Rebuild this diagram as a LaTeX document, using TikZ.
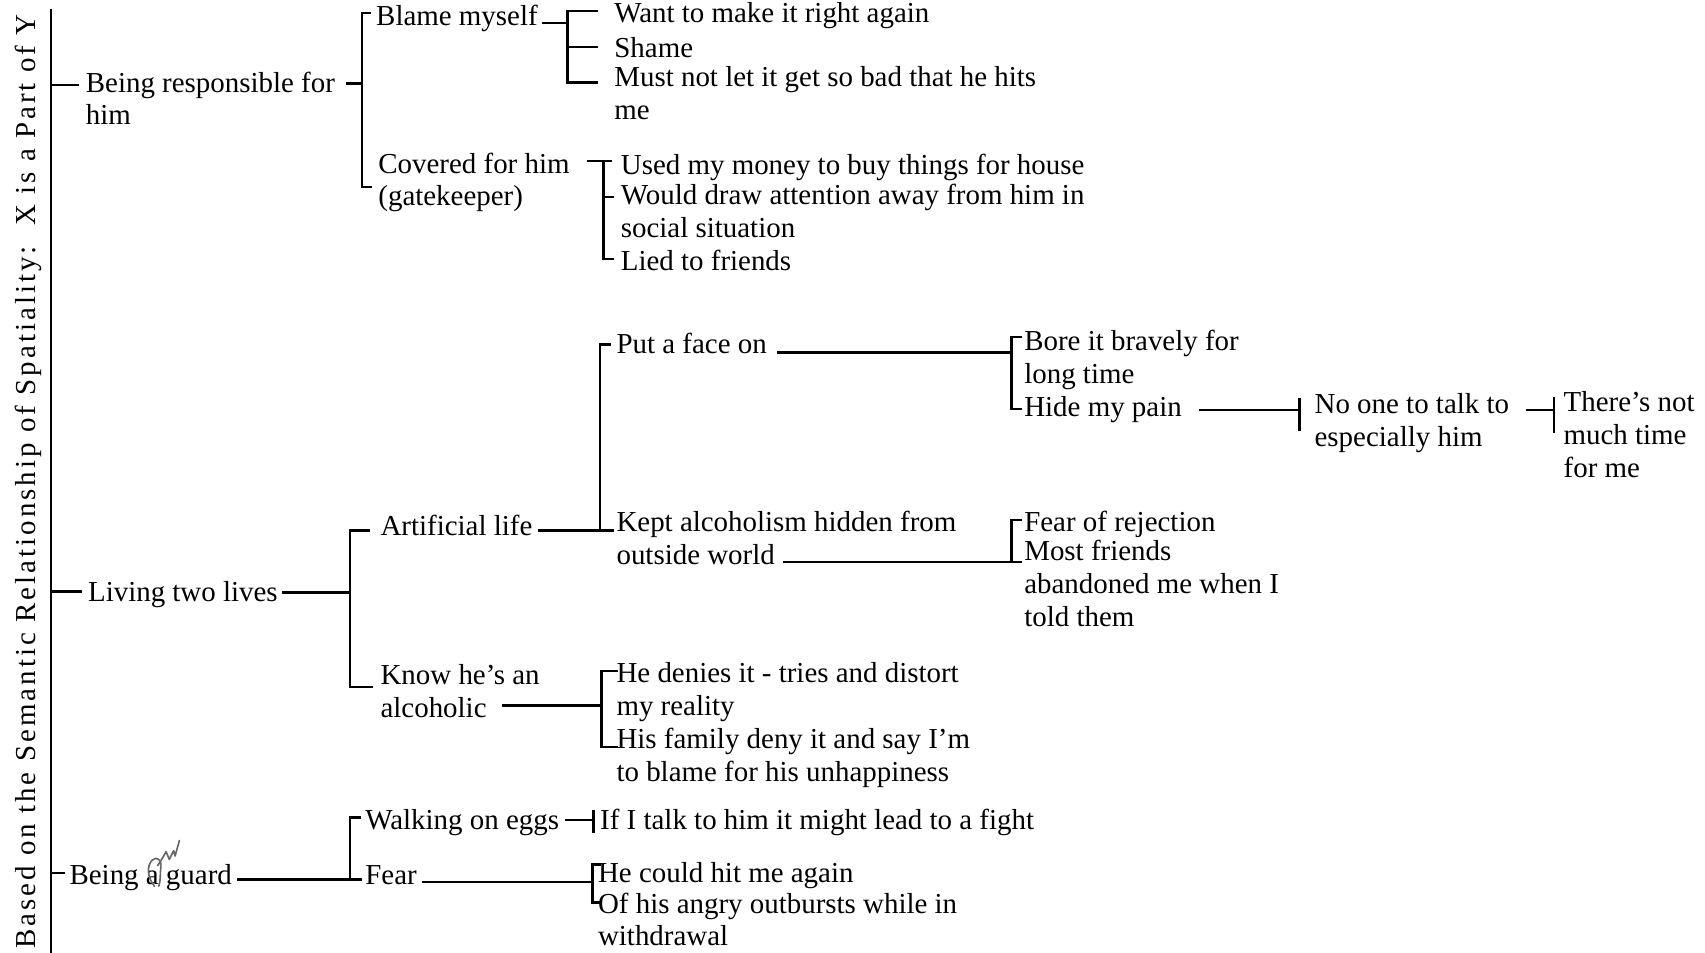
\documentclass[tikz,border=0pt]{standalone}
\usepackage{fontspec}
\setmainfont{Liberation Serif}
\newfontfamily\titlefont[LetterSpace=10.5]{Liberation Serif}
\begin{document}
\begin{tikzpicture}[x=1pt,y=-1pt,
  txt/.style={anchor=north west, inner sep=0pt, outer sep=0pt, align=left,
    font=\fontsize{26.6}{30.2}\selectfont, execute at begin node=\strut, yshift=-3.5pt},
  ln/.style={line width=2.3pt, line cap=butt, line join=miter},
  scrib/.style={draw=black!60, line width=1.5pt, line cap=round, line join=round},
]
\useasboundingbox (0,0) rectangle (1568,876);

% side title and main spine
\node[rotate=90, inner sep=0pt, font=\titlefont\fontsize{26.6}{30}\selectfont] (title) at (26,443)
  {Based on the Semantic Relationship of Spatiality:\ \ X is a Part of Y};
\coordinate (spineT) at (47,8);
\coordinate (spineB) at (47,876);
\draw[ln] (spineT) -- (spineB);

% ---- first branch
\node[txt] (resp) at (79,62.5) {Being responsible for\\him};
\node[txt] (blame) at (346,-1.5) {Blame myself};
\node[txt] (covered) at (348,137) {Covered for him\\(gatekeeper)};
\node[txt] (want) at (565,-3.5) {Want to make it right again};
\node[txt] (shame) at (565,28.5) {Shame};
\node[txt] (must) at (565,57.5) {Must not let it get so bad that he hits\\me};
\node[txt] (used) at (571,136) {Used my money to buy things for house};
\node[txt] (would) at (571,166) {Would draw attention away from him in\\social situation};
\node[txt] (lied) at (571,224.5) {Lied to friends};

\draw[ln] (47,78) -- (73,78);
\draw[ln] (318,77) -- (333,77);
\draw[ln] (341,12) -- (333,12) -- (333,172) -- (342,172);
\draw[ln] (498,21) -- (522,21);
\draw[ln] (550,10) -- (522,10) -- (522,76) -- (550,76);
\draw[ln] (522,43) -- (550,43);
\draw[ln] (540,148) -- (563,148);
\draw[ln] (555,148) -- (555,238) -- (565,238);
\draw[ln] (555,181) -- (565,181);

% ---- second branch
\node[txt] (living) at (81,528.5) {Living two lives};
\node[txt] (artificial) at (350,467.5) {Artificial life};
\node[txt] (know) at (350,607.5) {Know he's an\\alcoholic};
\node[txt] (face) at (567,300.5) {Put a face on};
\node[txt] (kept) at (567,466.5) {Kept alcoholism hidden from\\outside world};
\node[txt] (bore) at (942,300) {Bore it bravely for\\long time};
\node[txt] (hide) at (942,358) {Hide my pain};
\node[txt] (noone) at (1209,358) {No one to talk to\\especially him};
\node[txt] (notmuch) at (1438,356.5) {There's not\\much time\\for me};
\node[txt] (fearrej) at (942,464.5) {Fear of rejection};
\node[txt] (most) at (942,493.5) {Most friends\\abandoned me when I\\told them};
\node[txt] (denies) at (567,606) {He denies it - tries and distort\\my reality};
\node[txt] (family) at (567,666.5) {His family deny it and say I'm\\to blame for his unhappiness};

\draw[ln] (47,544) -- (75,544);
\draw[ln] (259,545) -- (322,545);
\draw[ln] (340,488) -- (322,488) -- (322,632) -- (343,632);
\draw[ln] (495,488) -- (552,488);
\draw[ln] (562,317) -- (552,317) -- (552,488) -- (565,488);
\draw[ln] (715,324) -- (930,324);
\draw[ln] (940,310) -- (930,310) -- (930,376) -- (940,376);
\draw[ln] (1103,377) -- (1195,377);
\draw[ln] (1195,366) -- (1195,396);
\draw[ln] (1403,377) -- (1429,377);
\draw[ln] (1429,365) -- (1429,398);
\draw[ln] (720,517) -- (935,517);
\draw[ln] (940,478) -- (930,478) -- (930,517) -- (940,517);
\draw[ln] (462,649) -- (553,649);
\draw[ln] (568,617) -- (553,617) -- (553,687) -- (568,687);

% ---- third branch
\node[txt] (guard) at (64,789) {Being a guard};
\node[txt] (walking) at (336,738.5) {Walking on eggs};
\node[txt] (talk) at (552,738.5) {If I talk to him it might lead to a fight};
\node[txt] (fear) at (336,788.5) {Fear};
\node[txt] (hit) at (550,786.5) {He could hit me again};
\node[txt] (angry) at (550,817.5) {Of his angry outbursts while in\\withdrawal};

\draw[ln] (47,803) -- (60,803);
\draw[ln] (218,809) -- (322,809);
\draw[ln] (332,752) -- (322,752) -- (322,809) -- (333,809);
\draw[ln] (520,754) -- (545,754);
\draw[ln] (546,745) -- (546,766);
\draw[ln] (388,811) -- (545,811);
\draw[ln] (553,795) -- (545,795) -- (545,830) -- (552,830);

% pencil correction over the article
\begin{scope}[xshift=4pt]
\draw[scrib] (138,815) .. controls (131,806) and (131,796) .. (136,791)
  .. controls (140,787) and (145,791) .. (144,797)
  .. controls (143,803) and (144,810) .. (142,815);
\draw[scrib] (141,796) .. controls (143,793) and (145,790) .. (148.7,783.2)
  -- (151.7,790.3) -- (155.7,782.3) -- (157,787.2) -- (161,773);
\end{scope}
\end{tikzpicture}
\end{document}
